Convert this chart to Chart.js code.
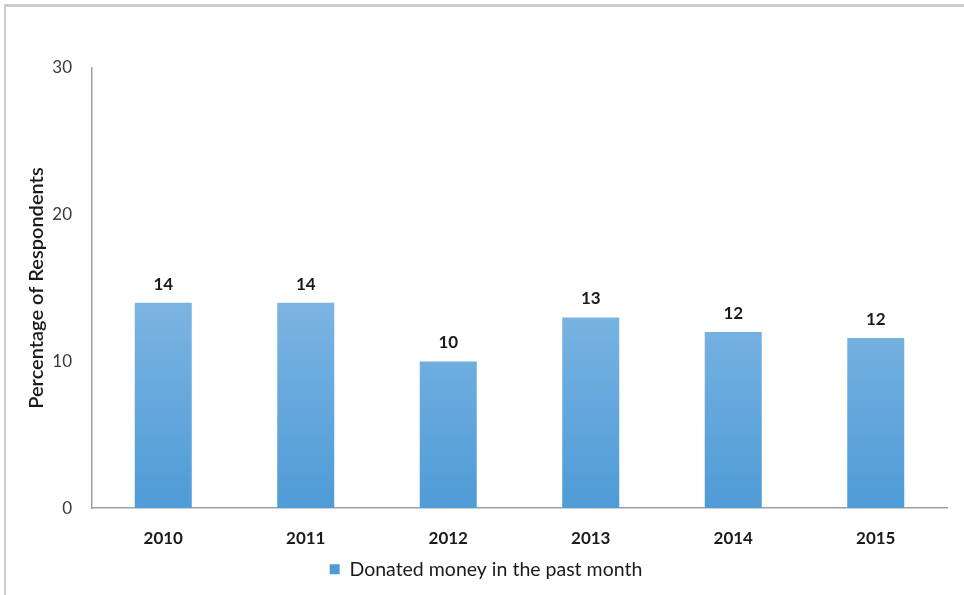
<!DOCTYPE html>
<html>
<head>
<meta charset="utf-8">
<script src="https://cdn.jsdelivr.net/npm/chart.js@4"></script>
<style>
  html, body { margin: 0; padding: 0; background: #fff; }
  #wrap { position: relative; width: 964px; height: 595px; }
  #frame { position: absolute; left: 4px; top: 4px; right: 0; bottom: 0;
           border-top: 3px solid #cdcdcd; border-left: 2px solid #cdcdcd; }
  canvas { position: absolute; left: 0; top: 0; }
</style>
</head>
<body>
<div id="wrap">
  <div id="frame"></div>
  <canvas id="donChart" width="964" height="595"></canvas>
</div>
<script>
// datos del gráfico
const years = ['2010', '2011', '2012', '2013', '2014', '2015'];
const donated = [14, 14, 10, 13, 12, 11.6];
const yTicks = [0, 10, 20, 30];
const seriesName = 'Donated money in the past month';
const yTitle = 'Percentage of Respondents';

const FONT = 'Lato, "Open Sans", sans-serif';

// etiquetas encima de cada barra
const barLabels = {
  id: 'barLabels',
  afterDatasetsDraw(chart) {
    const c = chart.ctx;
    const meta = chart.getDatasetMeta(0);
    c.save();
    c.font = 'bold 17px ' + FONT;
    c.fillStyle = '#1a1a1a';
    c.textAlign = 'center';
    c.textBaseline = 'bottom';
    meta.data.forEach((bar, i) => {
      c.fillText(Math.round(donated[i]), bar.x, bar.y - 10);
    });
    c.restore();
  }
};

function barGradient(context) {
  const area = context.chart.chartArea;
  if (!area) return '#5fa6dc';
  const g = context.chart.ctx.createLinearGradient(0, area.top + 230, 0, area.bottom);
  g.addColorStop(0, '#7db5e3');
  g.addColorStop(1, '#4e9bd6');
  return g;
}

const ctx = document.getElementById('donChart');
new Chart(ctx, {
  type: 'bar',
  data: {
    labels: years,
    datasets: [{
      label: seriesName,
      data: donated,
      backgroundColor: barGradient,
      borderWidth: 0,
      barPercentage: 0.8,
      categoryPercentage: 0.5
    }]
  },
  options: {
    responsive: false,
    animation: false,
    events: [],
    layout: { padding: { left: 25, right: 17, top: 68, bottom: 6 } },
    plugins: {
      tooltip: { enabled: false },
      legend: {
        position: 'bottom',
        labels: {
          color: '#1a1a1a',
          font: { family: FONT, size: 19.5 },
          boxWidth: 10,
          boxHeight: 10,
          padding: 12
        }
      }
    },
    scales: {
      x: {
        afterFit(scale) { scale.height = scale.height - 21; },
        grid: { display: false, drawTicks: false },
        border: { color: '#a0a0a0', width: 1.5 },
        ticks: {
          color: '#1a1a1a',
          font: { family: FONT, size: 17, weight: 'bold' },
          padding: 20
        }
      },
      y: {
        min: 0,
        max: 30,
        afterFit(scale) { scale.width = 67; },
        afterBuildTicks(scale) { scale.ticks = yTicks.map(v => ({ value: v })); },
        grid: { display: false, drawTicks: false },
        border: { color: '#a0a0a0', width: 1.5 },
        ticks: {
          color: '#3a3a3a',
          font: { family: FONT, size: 17 },
          padding: 20
        },
        title: {
          display: true,
          text: yTitle,
          color: '#1a1a1a',
          font: { family: FONT, size: 20, weight: '600' },
          padding: 0
        }
      }
    }
  },
  plugins: [barLabels]
});
</script>
</body>
</html>
